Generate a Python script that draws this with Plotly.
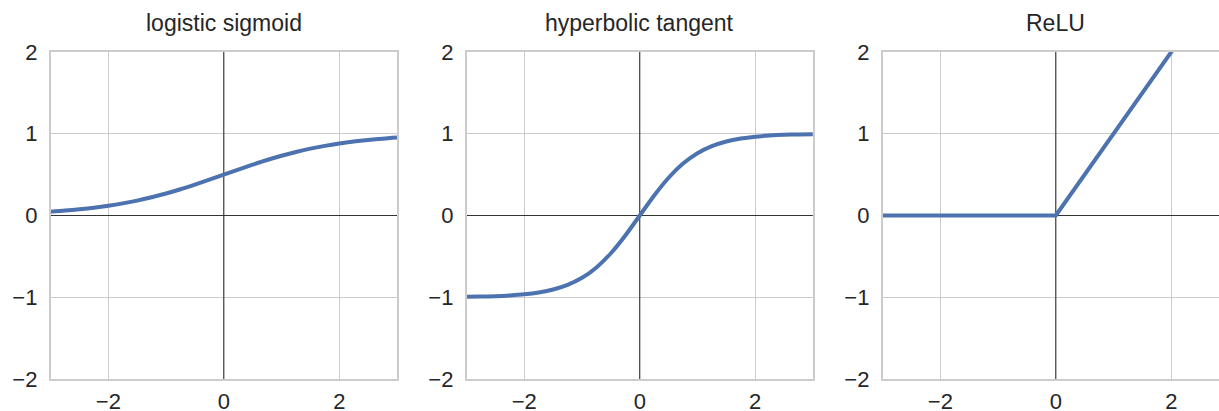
import plotly.graph_objects as go

# Sample positions along the input axis
x_smooth = [-3.0, -2.75, -2.5, -2.25, -2.0, -1.75, -1.5, -1.25, -1.0, -0.75, -0.5, -0.25,
            0.0, 0.25, 0.5, 0.75, 1.0, 1.25, 1.5, 1.75, 2.0, 2.25, 2.5, 2.75, 3.0]

# Logistic sigmoid outputs
sigmoid_y = [0.047, 0.060, 0.076, 0.095, 0.119, 0.148, 0.182, 0.223, 0.269, 0.321, 0.378, 0.438,
             0.500, 0.562, 0.622, 0.679, 0.731, 0.777, 0.818, 0.852, 0.881, 0.905, 0.924, 0.940, 0.953]

# Hyperbolic tangent outputs
tanh_y = [-0.995, -0.992, -0.987, -0.978, -0.964, -0.941, -0.905, -0.848, -0.762, -0.635, -0.462, -0.245,
          0.000, 0.245, 0.462, 0.635, 0.762, 0.848, 0.905, 0.941, 0.964, 0.978, 0.987, 0.992, 0.995]

# ReLU is piecewise linear: its corner points
relu_x = [-3.0, 0.0, 3.0]
relu_y = [0.0, 0.0, 3.0]

titles = ["logistic sigmoid", "hyperbolic tangent", "ReLU"]
x_ticks = [-2, 0, 2]
y_ticks = [-2, -1, 0, 1, 2]

W, H = 1219, 411
TOP, BOTTOM = 52, 32
LINE = "#4C72B0"
FRAME = "#cccccc"
TEXT = "#262626"
FONT = "Arial, Liberation Sans, sans-serif"

# Panel extents in pixels (left, right); last panel runs off the right edge
panels_px = [(50.6, 397.0), (466.6, 812.9), (882.6, 1219.0)]
unit_px = (397.0 - 50.6) / 6.0
x_ranges = [[-3, 3], [-3, 3], [-3, -3 + (1219.0 - 882.6) / unit_px]]

fig = go.Figure()
series = [(x_smooth, sigmoid_y, "spline"), (x_smooth, tanh_y, "spline"), (relu_x, relu_y, "linear")]
for i, (xs, ys, shape) in enumerate(series):
    n = "" if i == 0 else str(i + 1)
    fig.add_trace(go.Scatter(x=xs, y=ys, mode="lines",
                             line=dict(color=LINE, width=4, shape=shape, smoothing=0.8),
                             xaxis="x" + n, yaxis="y" + n, showlegend=False,
                             hoverinfo="skip"))
    l, r = panels_px[i]
    fig.layout["xaxis" + n] = dict(
        domain=[l / W, r / W], range=x_ranges[i], anchor="y" + n,
        tickvals=x_ticks, showgrid=True, gridcolor=FRAME, gridwidth=1.2,
        zeroline=False, showline=True, linecolor=FRAME, linewidth=1.5, mirror=True,
        ticks="", ticklabelstandoff=2, automargin=False,
        tickfont=dict(family=FONT, size=22, color=TEXT), fixedrange=True)
    fig.layout["yaxis" + n] = dict(
        domain=[0, 1], range=[-2, 2], anchor="x" + n,
        tickvals=y_ticks, showgrid=True, gridcolor=FRAME, gridwidth=1.2,
        zeroline=False, showline=True, linecolor=FRAME, linewidth=1.5,
        mirror=(i < 2), ticks="", ticklabelstandoff=7, automargin=False,
        tickfont=dict(family=FONT, size=22, color=TEXT), fixedrange=True)
    # reference axes through the origin, above the grid but beneath the curve
    fig.add_shape(type="line", xref="x" + n, yref="y" + n, x0=0, x1=0, y0=-2, y1=2,
                  line=dict(color="#333333", width=1.1), layer="between")
    fig.add_shape(type="line", xref="x" + n, yref="y" + n, x0=-3, x1=3, y0=0, y1=0,
                  line=dict(color="#333333", width=1.1), layer="between")
    fig.add_annotation(text=titles[i], xref="paper", yref="paper",
                       x=(l + (l + 6 * unit_px)) / 2 / W, y=1 + 29 / (H - TOP - BOTTOM),
                       xanchor="center", yanchor="middle", showarrow=False,
                       font=dict(family=FONT, size=23, color=TEXT))

fig.update_layout(width=W, height=H, margin=dict(l=0, r=0, t=TOP, b=BOTTOM, autoexpand=False),
                  paper_bgcolor="white", plot_bgcolor="white")

fig.write_html("out.html")
